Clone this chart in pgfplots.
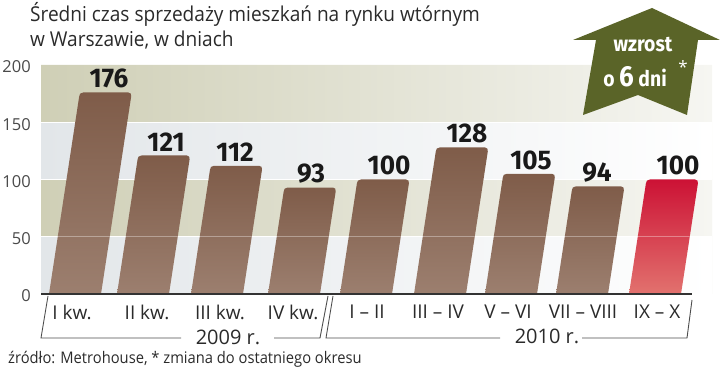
\documentclass[border=0pt]{standalone}
\usepackage{pgfplots}
\usepackage{fontspec}
\pgfplotsset{compat=1.18}
\setmainfont{Open Sans}
\newfontfamily\numf{Fira Sans}
\definecolor{txt}{HTML}{2A2A2A}
\definecolor{olA}{HTML}{CFCFB6}
\definecolor{olB}{HTML}{F6F6F2}
\definecolor{blA}{HTML}{E2E6E9}
\definecolor{blB}{HTML}{FFFFFF}
\definecolor{brT}{HTML}{7F5C49}
\definecolor{brB}{HTML}{9C7F6F}
\definecolor{rdT}{HTML}{CC1235}
\definecolor{rdB}{HTML}{E2726E}
\definecolor{house}{HTML}{5A6428}
\newcommand\fs[1]{\fontsize{#1bp}{#1bp}\selectfont}
% slanted bar with rounded top: x at foot, value, top colour, bottom colour
\newcommand\slantbar[4]{%
  \pgfmathsetmacro\xa{#1+0.1749*#2}%
  \pgfmathsetmacro\xb{\xa+52}%
  \pgfmathsetmacro\xc{#1+52}%
  \pgfmathsetmacro\yr{#2-3.5}\pgfmathsetmacro\ys{#2-1}%
  \pgfmathsetmacro\xl{\xa-0.6}\pgfmathsetmacro\xm{\xa+0.4}\pgfmathsetmacro\xn{\xa+3.5}%
  \pgfmathsetmacro\xp{\xb-3.5}\pgfmathsetmacro\xq{\xb-1}\pgfmathsetmacro\xs{\xb-0.6}%
  \addplot[draw=none,top color=#3,bottom color=#4,forget plot] coordinates
    {(#1,0) (\xl,\yr) (\xm,\ys) (\xn,#2) (\xp,#2) (\xq,\ys) (\xs,\yr) (\xc,0)} \closedcycle;%
}
\begin{document}
\begin{tikzpicture}[every node/.append style={text=txt}]
\path[use as bounding box] (0,0) rectangle (720bp,390bp);
\begin{axis}[
  at={(41bp,96bp)},anchor=south west,
  scale only axis,width=671bp,height=229bp,
  xmin=41,xmax=712,ymin=0,ymax=200,clip=false,
  axis line style={draw=none},
  major tick length=0pt,
  ytick={0,50,100,150,200},
  xtick={72,147,220,293,367,438,508,583,657},
  xticklabels={I kw.,II kw.,III kw.,IV kw.,I – II,III – IV,V – VI,VII – VIII,IX – X},
  xticklabel style={font=\fs{19},yshift=-10.5bp,anchor=north,inner sep=0pt,text=txt},
  yticklabel style={font=\fs{16.5},xshift=-10bp,yshift=-2bp,inner sep=0pt,text=txt!85},
  /pgf/number format/assume math mode=true,
]
% background bands
\addplot[draw=none,left color=olA,right color=olB,forget plot] coordinates {(41,150)(41,200)(712,200)(712,150)} \closedcycle;
\addplot[draw=none,left color=blA,right color=blB,forget plot] coordinates {(41,100)(41,150)(712,150)(712,100)} \closedcycle;
\addplot[draw=none,left color=olA,right color=olB,forget plot] coordinates {(41,50)(41,100)(712,100)(712,50)} \closedcycle;
\addplot[draw=none,left color=blA,right color=blB,forget plot] coordinates {(41,0)(41,50)(712,50)(712,0)} \closedcycle;
\addplot[white,line width=1.3bp,forget plot] coordinates {(41,50)(712,50)};
\addplot[white,line width=1.3bp,forget plot] coordinates {(41,100)(712,100)};
\addplot[white,line width=1.3bp,forget plot] coordinates {(41,150)(712,150)};
% bars
\slantbar{49}{176}{brT}{brB}
\slantbar{117}{121}{brT}{brB}
\slantbar{191}{112}{brT}{brB}
\slantbar{268}{93}{brT}{brB}
\slantbar{340}{100}{brT}{brB}
\slantbar{414}{128}{brT}{brB}
\slantbar{485}{105}{brT}{brB}
\slantbar{556}{94}{brT}{brB}
\slantbar{629}{100}{rdT}{rdB}
\addplot[white,opacity=.35,line width=.8bp,forget plot] coordinates {(41,50)(690,50)};
% baseline
\addplot[color=black!80,line width=1.1bp,forget plot] coordinates {(41,0)(692,0)};
% value labels
\addplot[draw=none,mark=none,forget plot,
  nodes near coords,
  nodes near coords style={font=\numf\bfseries\fs{27},text=black!90,anchor=south,inner sep=0pt,yshift=4bp,xscale=.97}]
  coordinates {(109,176)(166,121)(235,112)(311,93)(389,100)(467,128)(531,105)(597,94)(678,100)};
\end{axis}
\begin{scope}[x=1bp,y=-1bp,shift={(0,390bp)}]
  % house arrow
  \fill[house] (652,8)--(720,40)--(698,40)--(687,115)--(638,95)--(583,115)--(596,40)--(573,40)--cycle;
  \node[text=white,font=\numf\bfseries\fs{21.5},xscale=.9] at (643,45) {wzrost};
  \node[text=white,font=\numf\bfseries\fs{21.5},xscale=.9] at (635,77) {o \fs{29}6\fs{21.5} dni};
  \node[text=white,font=\fs{17}] at (683,67) {*};
  % title
  \node[anchor=base west,font=\fs{20.5},inner sep=0pt,xscale=.93] at (30,22) {Średni czas sprzedaży mieszkań na rynku wtórnym};
  \node[anchor=base west,font=\fs{20.5},inner sep=0pt,xscale=.93] at (30,47) {w Warszawie, w dniach};
  % year brackets
  \draw[black!70,line width=.9bp] (48,296)--(41,338)--(181,338) (274,338)--(320,338)--(328,296);
  \draw[black!70,line width=.9bp] (333,296)--(326,338)--(500,338) (582,338)--(687,338)--(692,300);
  \node[font=\fs{20},inner sep=0pt] at (228,337) {2009 r.};
  \node[font=\fs{20},inner sep=0pt] at (547,336) {2010 r.};
  % source
  \node[anchor=base west,font=\fs{16},inner sep=0pt,xscale=.92] at (8,364) {źródło: Metrohouse, * zmiana do ostatniego okresu};
\end{scope}
\end{tikzpicture}
\end{document}
